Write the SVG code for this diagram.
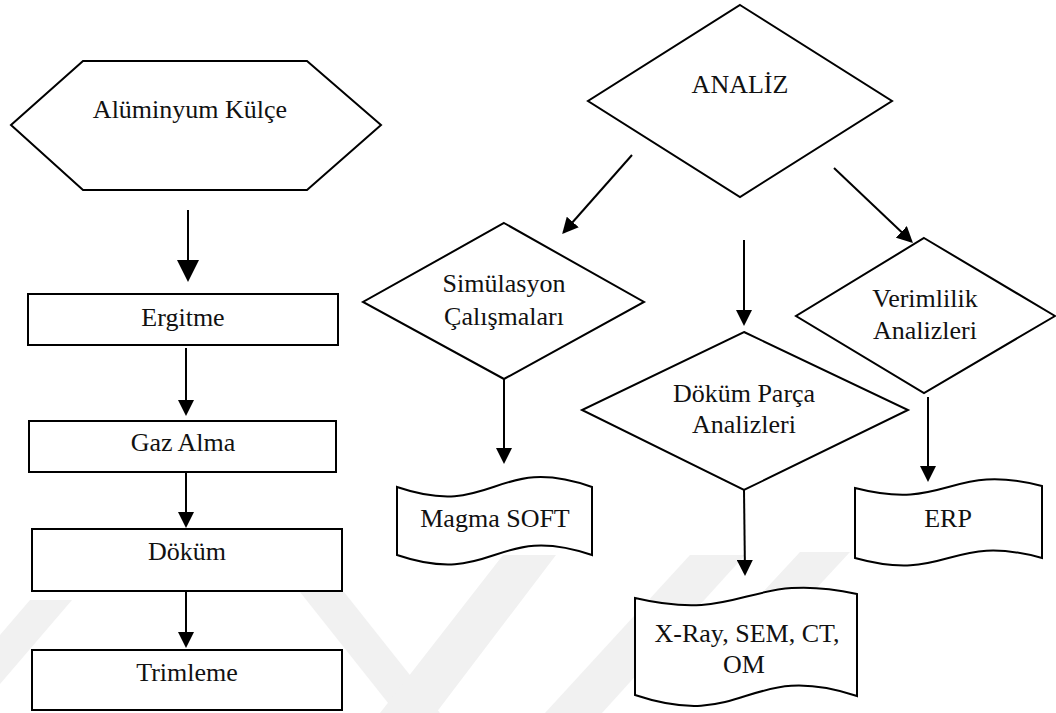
<svg xmlns="http://www.w3.org/2000/svg" width="1056" height="713" viewBox="0 0 1056 713">
<style>
.shape{fill:#fff;stroke:#000;stroke-width:2;stroke-linejoin:miter}
.conn{stroke:#000;stroke-width:2;fill:none}
.lbl{font-family:"Liberation Serif","Times New Roman",serif;font-size:26px;fill:#111;text-anchor:middle}
.wm{fill:#f1f1f1;stroke:none}
</style>
<defs>
<marker id="ah" markerUnits="userSpaceOnUse" markerWidth="16" markerHeight="16" refX="14" refY="8" orient="auto">
<path d="M0,0 L16,8 L0,16 Z" fill="#000"/>
</marker>
<marker id="ahL" markerUnits="userSpaceOnUse" markerWidth="22" markerHeight="22" refX="20" refY="11" orient="auto">
<path d="M0,0 L22,11 L0,22 Z" fill="#000"/>
</marker>
</defs>
<rect width="1056" height="713" fill="#fff"/>
<g id="watermark">
<polygon class="wm" points="0,635 30,600 72,600 0,684"/>
<polygon class="wm" points="300,592 344,592 440,713 396,713"/>
<polygon class="wm" points="380,713 503,555 556,555 436,713"/>
<polygon class="wm" points="545,713 690,555 745,555 602,713"/>
<polygon class="wm" points="700,660 800,552 850,552 750,660"/>
</g>
<g id="connectors">
<line class="conn" x1="188" y1="210" x2="188" y2="280" marker-end="url(#ahL)"/>
<line class="conn" x1="186" y1="348" x2="186" y2="414" marker-end="url(#ah)"/>
<line class="conn" x1="186" y1="472" x2="186" y2="526" marker-end="url(#ah)"/>
<line class="conn" x1="186" y1="591" x2="186" y2="646" marker-end="url(#ah)"/>
<line class="conn" x1="632" y1="155" x2="563.5" y2="232.5" marker-end="url(#ah)"/>
<line class="conn" x1="744" y1="240" x2="744" y2="324" marker-end="url(#ah)"/>
<line class="conn" x1="834" y1="168" x2="911.5" y2="241.5" marker-end="url(#ah)"/>
<line class="conn" x1="504" y1="379" x2="504" y2="462" marker-end="url(#ah)"/>
<line class="conn" x1="744" y1="490" x2="745" y2="574" marker-end="url(#ah)"/>
<line class="conn" x1="928" y1="397" x2="928" y2="480" marker-end="url(#ah)"/>
</g>
<g id="node-kulce">
<polygon class="shape" points="11,125 83,61 307,61 381,125 307,190 83,190"/>
<text class="lbl" x="190" y="118">Alüminyum Külçe</text>
</g>
<g id="node-ergitme">
<rect class="shape" x="28" y="294" width="310" height="51"/>
<text class="lbl" x="183" y="326">Ergitme</text>
</g>
<g id="node-gaz">
<rect class="shape" x="29" y="421" width="307" height="51"/>
<text class="lbl" x="183" y="451">Gaz Alma</text>
</g>
<g id="node-dokum">
<rect class="shape" x="32" y="529" width="310" height="62"/>
<text class="lbl" x="187" y="560">Döküm</text>
</g>
<g id="node-trim">
<rect class="shape" x="32" y="650" width="310" height="60"/>
<text class="lbl" x="187" y="681">Trimleme</text>
</g>
<g id="node-analiz">
<polygon class="shape" points="740,5 892,101 740,197 588,101"/>
<text class="lbl" x="740" y="93">ANALİZ</text>
</g>
<g id="node-sim">
<polygon class="shape" points="504,223 644,302 504,379 363,302"/>
<text class="lbl" x="504" y="292">Simülasyon</text>
<text class="lbl" x="504" y="325">Çalışmaları</text>
</g>
<g id="node-dp">
<polygon class="shape" points="744,332 908,410 744,490 582,410"/>
<text class="lbl" x="744" y="402">Döküm Parça</text>
<text class="lbl" x="744" y="433">Analizleri</text>
</g>
<g id="node-ver">
<polygon class="shape" points="924,238 1055,316 924,393 796,316"/>
<text class="lbl" x="925" y="307">Verimlilik</text>
<text class="lbl" x="925" y="339">Analizleri</text>
</g>
<g id="node-magma">
<path class="shape" d="M397,487 C494.5,520 494.5,453 592,487 L592,555 C494.5,522 494.5,588 397,555 Z"/>
<text class="lbl" x="495" y="527">Magma SOFT</text>
</g>
<g id="node-xray">
<path class="shape" d="M635,598 C746,624 746,570 857,594 L857,696 C746,660 746,732 635,695 Z"/>
<text class="lbl" x="747" y="642">X-Ray, SEM, CT,</text>
<text class="lbl" x="744" y="673">OM</text>
</g>
<g id="node-erp">
<path class="shape" d="M855,488 C948.5,512 948.5,462 1042,486 L1042,558 C948.5,532 948.5,584 855,558 Z"/>
<text class="lbl" x="948" y="527">ERP</text>
</g>
</svg>
